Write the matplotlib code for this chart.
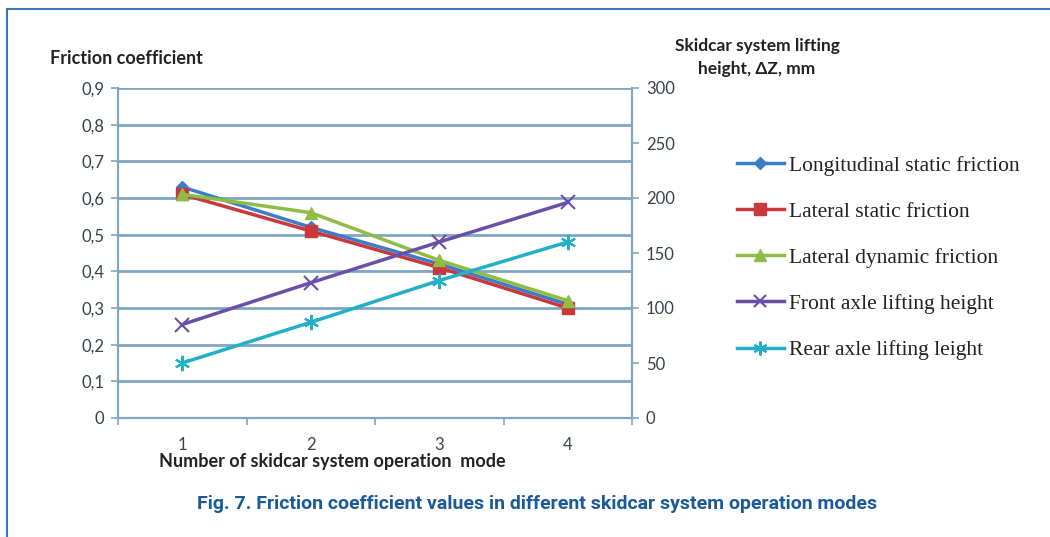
import matplotlib.pyplot as plt
from matplotlib.lines import Line2D
from matplotlib.ticker import FuncFormatter

modes = [1, 2, 3, 4]
long_static = [0.63, 0.52, 0.42, 0.31]
lat_static = [0.61, 0.51, 0.41, 0.30]
lat_dynamic = [0.61, 0.56, 0.43, 0.32]
front_lift = [85, 123, 160, 196]
rear_lift = [50, 87, 125, 160]

labels = ["Longitudinal static friction", "Lateral static friction",
          "Lateral dynamic friction", "Front axle lifting height",
          "Rear axle lifting leight"]
colors = ["#3d7cc9", "#c8383c", "#8fbc45", "#6a4fa8", "#21b0c8"]

grid_col = "#7fa7c4"
txt_col = "#38424c"

fig = plt.figure(figsize=(10.5, 5.37), dpi=100)
ax = fig.add_axes([118 / 1050, 1 - 418 / 537, 514 / 1050, 330 / 537])
ax2 = ax.twinx()

# outer frame of the figure box
fig.add_artist(Line2D([7 / 1050, 1], [1 - 9 / 537, 1 - 9 / 537], color="#3a78b8", lw=1.5))
fig.add_artist(Line2D([7 / 1050, 7 / 1050], [0, 1 - 9 / 537], color="#3a78b8", lw=1.5))

ax.plot(modes, long_static, color=colors[0], lw=2.5, marker="D", ms=6, zorder=3)
ax.plot(modes, lat_static, color=colors[1], lw=2.5, marker="s", ms=8, zorder=3)
ax.plot(modes, lat_dynamic, color=colors[2], lw=2.5, marker="^", ms=8, zorder=3)
ax2.plot(modes, front_lift, color=colors[3], lw=2.5, marker="x", ms=10, mew=1.5)
ax2.plot(modes, rear_lift, color=colors[4], lw=2.5, marker=(6, 2, 0), ms=11, mew=1.5)

ax.set_xlim(0.5, 4.5)
ax.set_ylim(0, 0.9)
ax.set_yticks([i / 10 for i in range(10)])
ax.yaxis.set_major_formatter(FuncFormatter(lambda v, p: "0" if v == 0 else ("%.1f" % v).replace(".", ",")))
ax2.set_ylim(0, 300)
ax2.set_yticks(range(0, 301, 50))

ax.set_xticks(modes)
ax.set_xticks([0.5, 1.5, 2.5, 3.5, 4.5], minor=True)
ax.tick_params(axis="x", which="major", length=0, pad=13.5, labelsize=12, labelcolor=txt_col)
ax.tick_params(axis="x", which="minor", length=5, color=grid_col, width=1.2, direction="out")
ax.tick_params(axis="y", length=5, color=grid_col, width=1.2, labelsize=12, labelcolor=txt_col, pad=5)
ax2.tick_params(axis="y", length=5, color=grid_col, width=1.2, labelsize=12, labelcolor=txt_col, pad=5)
for a in (ax, ax2):
    for lab in a.get_xticklabels() + a.get_yticklabels():
        lab.set_family("Lato")

ax.yaxis.grid(True, color=grid_col, lw=2)
ax.set_axisbelow(True)
for a in (ax, ax2):
    a.spines["top"].set_visible(False)
    for s in ("left", "right", "bottom"):
        a.spines[s].set_color(grid_col)
        a.spines[s].set_linewidth(1.5)

fig.text(50 / 1050, 1 - 58 / 537, "Friction coefficient", fontsize=13, fontweight="bold",
         family="Lato", color="#222222", va="center")
fig.text(757 / 1050, 1 - 57.5 / 537, "Skidcar system lifting\nheight, \u0394Z, mm", fontsize=12.5,
         fontweight="bold", family="Lato", color="#222222", ha="center", va="center",
         linespacing=1.5)
fig.text(332 / 1050, 1 - 462 / 537, "Number of skidcar system operation  mode", fontsize=13,
         fontweight="bold", family="Lato", color="#222222", ha="center", va="center")
fig.text(537 / 1050, 1 - 504 / 537,
         "Fig. 7. Friction coefficient values in different skidcar system operation modes",
         fontsize=14, fontweight="bold", family="Roboto", color="#1a5a9a", ha="center", va="center")

handles = [
    Line2D([], [], color=colors[0], lw=2.5, marker="D", ms=6),
    Line2D([], [], color=colors[1], lw=2.5, marker="s", ms=8),
    Line2D([], [], color=colors[2], lw=2.5, marker="^", ms=8),
    Line2D([], [], color=colors[3], lw=2.5, marker="x", ms=9, mew=1.5),
    Line2D([], [], color=colors[4], lw=2.5, marker=(6, 2, 0), ms=10, mew=1.5),
]
fig.legend(handles, labels, loc="upper left", bbox_to_anchor=(728 / 1050, 1 - 147 / 537),
           frameon=False, prop={"family": "Liberation Serif", "size": 15.5},
           handlelength=2.2, handletextpad=0.25, labelspacing=1.21, borderaxespad=0,
           labelcolor="#222222")

fig.savefig("out.png", dpi=100)
